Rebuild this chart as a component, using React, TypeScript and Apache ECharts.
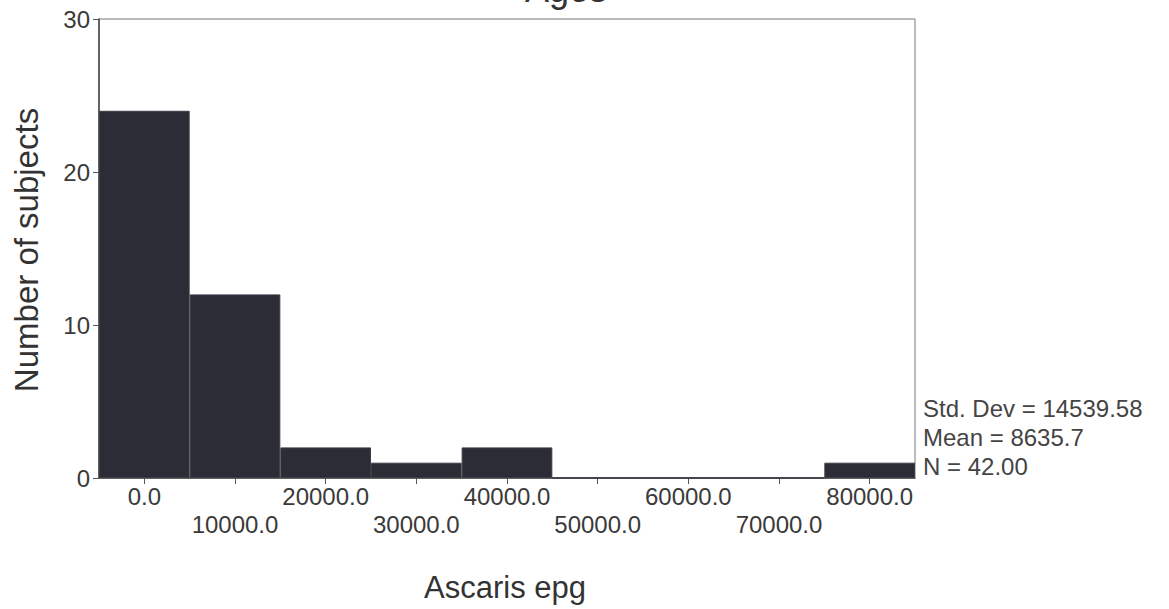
import React, { useEffect, useRef } from "react";
import * as echarts from "echarts";

const categories = ["0.0", "10000.0", "20000.0", "30000.0", "40000.0", "50000.0", "60000.0", "70000.0", "80000.0"];
const counts = [24, 12, 2, 1, 2, 0, 0, 0, 1];
const yMin = 0;
const yMax = 30;
const yInterval = 10;
const statsLines = ["Std. Dev = 14539.58", "Mean = 8635.7", "N = 42.00"];
const xTitle = "Ascaris epg";
const yTitle = "Number of subjects";
const topTitle = "Ages";

const FONT = "'Liberation Sans', Arial, Helvetica, sans-serif";

export default function App() {
  const ref = useRef<HTMLDivElement>(null);
  useEffect(() => {
    if (!ref.current) return;
    const chart = echarts.init(ref.current, undefined, { renderer: "svg" });
    const statsGraphics = statsLines.map((t, i) => ({
      type: "text",
      x: 923,
      y: 408 + i * 29,
      style: {
        text: t,
        font: `24px ${FONT}`,
        fill: "#444",
        textAlign: "left",
        textVerticalAlign: "middle",
        verticalAlign: "middle",
      },
    }));
    chart.setOption({
      animation: false,
      backgroundColor: "#ffffff",
      grid: {
        left: 99,
        right: 254,
        top: 19,
        bottom: 131,
        show: true,
        borderColor: "#777",
        borderWidth: 1,
        backgroundColor: "transparent",
      },
      xAxis: {
        type: "category",
        data: categories,
        boundaryGap: true,
        axisLine: { show: true, lineStyle: { color: "#444", width: 1.5 } },
        axisTick: { show: true, alignWithLabel: true, length: 6, lineStyle: { color: "#555" } },
        axisLabel: {
          interval: 0,
          margin: 4,
          fontFamily: FONT,
          fontSize: 24,
          lineHeight: 28,
          color: "#3a3a3a",
          formatter: (v: string, i: number) => (i % 2 === 1 ? "\n" + v : v),
        },
        splitLine: { show: false },
      },
      yAxis: {
        type: "value",
        min: yMin,
        max: yMax,
        interval: yInterval,
        axisLine: { show: true, lineStyle: { color: "#444", width: 1.5 } },
        axisTick: { show: true, length: 6, lineStyle: { color: "#555" } },
        axisLabel: {
          margin: 9,
          fontFamily: FONT,
          fontSize: 24,
          color: "#3a3a3a",
        },
        splitLine: { show: false },
      },
      series: [
        {
          type: "bar",
          data: counts,
          barCategoryGap: "0%",
          barWidth: "100%",
          itemStyle: {
            color: "#2c2c37",
            borderColor: "#3c3c47",
            borderWidth: 1,
          },
        },
      ],
      graphic: [
        {
          type: "text",
          x: 607,
          y: -11,
          style: {
            text: topTitle,
            font: `36px ${FONT}`,
            fill: "#333",
            textAlign: "right",
            textVerticalAlign: "middle",
            verticalAlign: "middle",
          },
        },
        {
          type: "text",
          x: 26,
          y: 250,
          rotation: Math.PI / 2,
          style: {
            text: yTitle,
            font: `33px ${FONT}`,
            fill: "#333",
            textAlign: "center",
            textVerticalAlign: "middle",
            verticalAlign: "middle",
          },
        },
        {
          type: "text",
          x: 505,
          y: 587,
          style: {
            text: xTitle,
            font: `31px ${FONT}`,
            fill: "#333",
            textAlign: "center",
            textVerticalAlign: "middle",
            verticalAlign: "middle",
          },
        },
        ...statsGraphics,
      ],
    });
    return () => chart.dispose();
  }, []);
  return (
    <div
      ref={ref}
      style={{ position: "fixed", left: 0, top: 0, width: 1169, height: 609, background: "#fff" }}
    />
  );
}
